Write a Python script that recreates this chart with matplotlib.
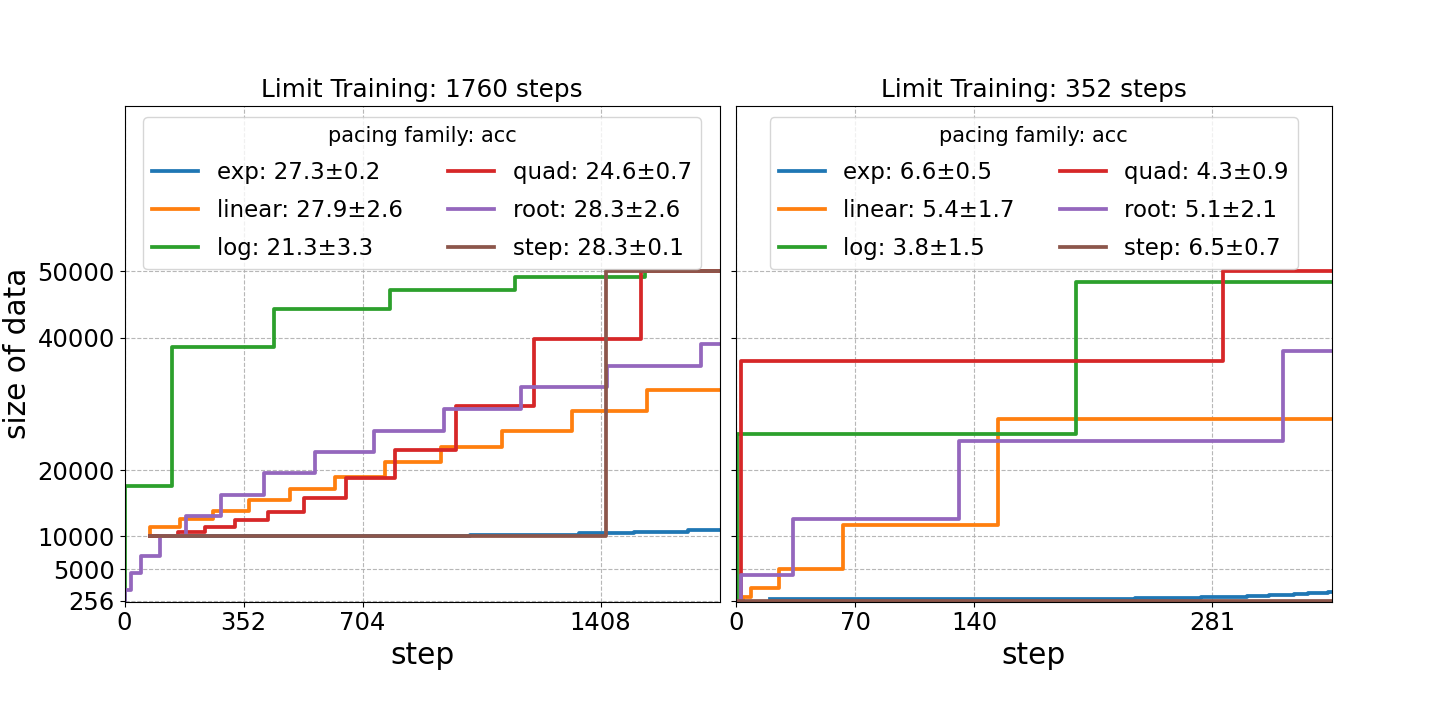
import matplotlib
matplotlib.use("Agg")
import matplotlib.pyplot as plt

# schedule names and legend scores
names = ['exp', 'linear', 'log', 'quad', 'root', 'step']
colors = ['tab:blue', 'tab:orange', 'tab:green', 'tab:red', 'tab:purple', 'tab:brown']
scores_1760 = ['27.3±0.2', '27.9±2.6', '21.3±3.3', '24.6±0.7', '28.3±2.6', '28.3±0.1']
scores_352 = ['6.6±0.5', '5.4±1.7', '3.8±1.5', '4.3±0.9', '5.1±2.1', '6.5±0.7']

# left panel: 1760 steps (step, size of data), drawn as steps-post
x_1760 = {
    'exp':    [76, 1021, 1343, 1506, 1668, 1760],
    'linear': [76, 76, 163, 262, 368, 489, 623, 769, 936, 1117, 1323, 1546, 1760],
    'log':    [0, 0, 139, 441, 785, 1156, 1540],
    'quad':   [76, 157, 239, 326, 423, 532, 655, 800, 981, 1210, 1528, 1760],
    'root':   [0, 2, 18, 48, 106, 181, 285, 413, 564, 739, 945, 1172, 1428, 1706, 1760],
    'step':   [76, 1423, 1760],
}
y_1760 = {
    'exp':    [10000, 10200, 10450, 10600, 10950, 11000],
    'linear': [10000, 11350, 12560, 13870, 15430, 17090, 19000, 21160, 23420, 25930, 28950, 32060, 32060],
    'log':    [256, 17600, 38600, 44300, 47200, 49150, 49650],
    'quad':   [10000, 10650, 11360, 12460, 13720, 15830, 18850, 23070, 29600, 39800, 50000, 50000],
    'root':   [256, 1900, 4400, 7050, 10000, 13100, 16230, 19500, 22660, 25930, 29200, 32470, 35680, 39000, 39000],
    'step':   [10000, 50000, 50000],
}

# right panel: 352 steps
x_352 = {
    'exp':    [20, 236, 275, 302, 315, 330, 338, 350, 352],
    'linear': [0, 4.3, 9, 25.5, 63.5, 154.7, 352],
    'log':    [0, 0.8, 201, 352],
    'quad':   [0, 2.7, 288, 352],
    'root':   [0, 2.7, 33.7, 131.9, 323, 352],
    'step':   [0, 352],
}
y_352 = {
    'exp':    [600, 700, 850, 1050, 1200, 1300, 1400, 1550, 1550],
    'linear': [256, 900, 2160, 5000, 11650, 27690, 27690],
    'log':    [256, 25480, 48340, 48340],
    'quad':   [256, 36480, 50000, 50000],
    'root':   [256, 4160, 12650, 24420, 37990, 37990],
    'step':   [256, 256],
}

y_ticks = [256, 5000, 10000, 20000, 40000, 50000]
x_ticks_1760 = [0, 352, 704, 1408]
x_ticks_352 = [0, 70.4, 140.8, 281.6]
x_labels_352 = ['0', '70', '140', '281']

fig = plt.figure(figsize=(14.4, 7.2), dpi=100)
ax1 = fig.add_axes([0.0865, 0.1643, 0.4132, 0.6889])
ax2 = fig.add_axes([0.5111, 0.1643, 0.4136, 0.6889], sharey=ax1)

panels = [
    (ax1, x_1760, y_1760, scores_1760, 1760, x_ticks_1760, [str(t) for t in x_ticks_1760]),
    (ax2, x_352, y_352, scores_352, 352, x_ticks_352, x_labels_352),
]

for ax, xs, ys, scores, total, xt, xl in panels:
    for name, c, s in zip(names, colors, scores):
        ax.step(xs[name], ys[name], where='post', color=c, lw=2.7, label=f'{name}: {s}')
    ax.set_xlim(0, total)
    ax.set_xticks(xt)
    ax.set_xticklabels(xl)
    ax.set_title(f'Limit Training: {total} steps', fontsize=17.8)
    ax.set_xlabel('step', fontsize=21.3)
    ax.grid(True, linestyle='--', alpha=0.9)
    ax.tick_params(labelsize=17.5)
    ax.legend(loc='upper center', ncol=2, title='pacing family: acc',
              fontsize=16.5, title_fontsize=15, labelspacing=0.65)

ax1.set_ylim(128, 75000)
ax1.set_yticks(y_ticks)
ax1.set_yticklabels([str(t) for t in y_ticks])
ax1.set_ylabel('size of data', fontsize=21.3)
plt.setp(ax2.get_yticklabels(), visible=False)

fig.savefig('out.png', dpi=100)
